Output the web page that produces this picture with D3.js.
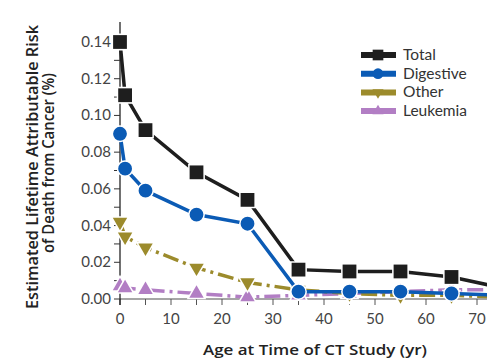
<!DOCTYPE html>
<html>
<head>
<meta charset="utf-8">
<script src="https://cdn.jsdelivr.net/npm/d3@7"></script>
<style>
  body { margin: 0; background: #fff; }
  svg { display: block; font-family: Lato, "Open Sans", sans-serif; }
  .title { font-family: "Open Sans", sans-serif; font-weight: 600; }
</style>
</head>
<body>
<svg id="chart" width="487" height="360"></svg>
<script>
const ages = [0, 1, 5, 15, 25, 35, 45, 55, 65, 75];
const total = [0.140, 0.111, 0.092, 0.069, 0.054, 0.016, 0.015, 0.015, 0.012, 0.006];
const digestive = [0.090, 0.071, 0.059, 0.046, 0.041, 0.004, 0.004, 0.004, 0.003, 0.002];
const other = [0.042, 0.034, 0.028, 0.017, 0.009, 0.005, 0.003, 0.002, 0.002, 0.001];
const leukemia = [0.007, 0.006, 0.005, 0.003, 0.001, 0.002, 0.003, 0.004, 0.005, 0.005];
const seriesNames = ["Total", "Digestive", "Other", "Leukemia"];
const xTicks = [0, 10, 20, 30, 40, 50, 60, 70];
const yTicks = [0, 0.02, 0.04, 0.06, 0.08, 0.10, 0.12, 0.14];

const series = [
    { name: "Total", values: total, color: "#1e1e1e", symbol: d3.symbolSquare, size: 190, dash: null },
    { name: "Digestive", values: digestive, color: "#0b5bb5", symbol: d3.symbolCircle, size: 150, dash: null },
    { name: "Other", values: other, color: "#9c8b2c", symbol: d3.symbolTriangle, size: 90, rot: 180, dash: "16,5,3,5" },
    { name: "Leukemia", values: leukemia, color: "#b27ec4", symbol: d3.symbolTriangle, size: 90, rot: 0, dash: "16,5,3,5" }
];

const svg = d3.select("#chart");
const x = d3.scaleLinear().domain([0, 72]).range([120, 487.2]);
const y = d3.scaleLinear().domain([0, 0.14]).range([299, 42]);

// clip so the last point at 75 runs off the edge
svg.append("defs").append("clipPath").attr("id", "clip")
    .append("rect").attr("x", 100).attr("y", 20).attr("width", 387).attr("height", 300);

// x axis
const xAxis = svg.append("g").attr("transform", "translate(0,299)");
xAxis.append("line").attr("x1", 120).attr("x2", 487).attr("stroke", "#888").attr("stroke-width", 1.5);
xAxis.selectAll(".tk").data(d3.range(0, 75, 5)).enter().append("line")
    .attr("x1", d => x(d)).attr("x2", d => x(d)).attr("y1", 0).attr("y2", 6)
    .attr("stroke", "#555").attr("stroke-width", 1);
xAxis.selectAll("text").data(xTicks).enter().append("text")
    .attr("x", d => x(d)).attr("y", 25).attr("text-anchor", "middle")
    .attr("font-size", 15).attr("fill", "#444").text(d => d);

// y axis
const yAxis = svg.append("g");
yAxis.append("line").attr("x1", 120).attr("x2", 120).attr("y1", 22).attr("y2", 305)
    .attr("stroke", "#111").attr("stroke-width", 1.2);
yAxis.selectAll(".tk").data(d3.range(0, 0.145, 0.01)).enter().append("line")
    .attr("x1", 114).attr("x2", 120).attr("y1", d => y(d)).attr("y2", d => y(d))
    .attr("stroke", "#333").attr("stroke-width", 1);
yAxis.selectAll("text").data(yTicks).enter().append("text")
    .attr("x", 111).attr("y", d => y(d) + 5).attr("text-anchor", "end")
    .attr("font-size", 15).attr("fill", "#444").text(d => d.toFixed(2));

// axis titles
svg.append("text").attr("class", "title").attr("x", 315).attr("y", 355).attr("text-anchor", "middle")
    .attr("font-size", 15).attr("fill", "#222")
    .attr("textLength", 224).attr("lengthAdjust", "spacingAndGlyphs")
    .text("Age at Time of CT Study (yr)");
const yt = svg.append("g").attr("transform", "translate(38,167) rotate(-90)");
yt.append("text").attr("class", "title").attr("x", 0).attr("y", 0).attr("text-anchor", "middle")
    .attr("font-size", 15.5).attr("fill", "#222")
    .attr("textLength", 284).attr("lengthAdjust", "spacingAndGlyphs")
    .text("Estimated Lifetime Attributable Risk");
yt.append("text").attr("class", "title").attr("x", 4).attr("y", 16).attr("text-anchor", "middle")
    .attr("font-size", 15.5).attr("fill", "#222")
    .attr("textLength", 180).attr("lengthAdjust", "spacingAndGlyphs")
    .text("of Death from Cancer (%)");

// series
const plot = svg.append("g").attr("clip-path", "url(#clip)");
const line = d3.line().x((d, i) => x(ages[i])).y(d => y(d));
series.slice().reverse().forEach(s => {
    const g = plot.append("g");
    g.append("path").attr("d", line(s.values)).attr("fill", "none")
        .attr("stroke", s.color).attr("stroke-width", 3.5)
        .attr("stroke-dasharray", s.dash);
    g.selectAll("path.m").data(s.values).enter().append("path")
        .attr("class", "m")
        .attr("d", d3.symbol().type(s.symbol).size(s.size))
        .attr("transform", (d, i) => `translate(${x(ages[i])},${y(d)}) rotate(${s.rot || 0})`)
        .attr("fill", s.color).attr("stroke", "#fff").attr("stroke-width", 3)
        .attr("paint-order", "stroke");
});

// legend
const legend = svg.append("g");
series.forEach((s, i) => {
    const ly = 55 + i * 18.7;
    legend.append("line").attr("x1", 361).attr("x2", 396).attr("y1", ly).attr("y2", ly)
        .attr("stroke", s.color).attr("stroke-width", 6);
    legend.append("path").attr("d", d3.symbol().type(s.symbol).size(s.size * 0.6))
        .attr("transform", `translate(378,${ly}) rotate(${s.rot || 0})`).attr("fill", s.color);
    legend.append("text").attr("x", 403).attr("y", ly + 5).attr("font-size", 15.5)
        .attr("fill", "#333").text(seriesNames[i]);
});
</script>
</body>
</html>
